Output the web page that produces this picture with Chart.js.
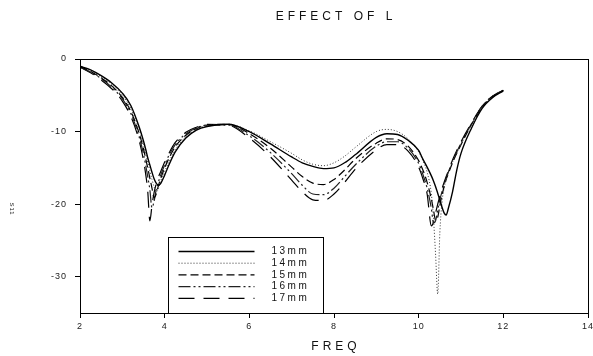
<!DOCTYPE html>
<html>
<head>
<meta charset="utf-8">
<script src="https://cdn.jsdelivr.net/npm/chart.js@4.4.1/dist/chart.umd.min.js"></script>
<style>
  html, body { margin: 0; padding: 0; background: #fff; }
</style>
</head>
<body>
<canvas id="chart" width="593" height="356"></canvas>
<script>
// frequency grid (finer around the dips)
const freq = [2.0, 2.25, 2.5, 2.75, 3.0, 3.2, 3.4, 3.5, 3.55, 3.6, 3.65, 3.7, 3.75, 3.8, 3.85, 3.9, 4.0, 4.1, 4.25, 4.5, 4.75,
  5.0, 5.5, 6.0, 6.5, 7.0, 7.25, 7.5, 7.75, 8.0, 8.25, 8.5, 9.0, 9.25, 9.5, 9.75, 10.0, 10.1, 10.2, 10.3, 10.35, 10.4,
  10.45, 10.5, 10.55, 10.6, 10.65, 10.7, 10.8, 10.9, 11.0, 11.25, 11.5, 11.75, 12.0];

const l13 = [-1.0, -1.5, -2.3, -3.3, -4.7, -6.4, -9.4, -11.3, -12.4, -13.6, -14.6, -15.6, -16.5, -17.1, -17.4, -17.2, -16.0, -14.6, -12.8, -10.9, -9.8,
  -9.3, -9.0, -10.0, -11.7, -13.5, -14.3, -14.8, -15.1, -15.0, -14.3, -13.2, -10.8, -10.3, -10.4, -11.2, -12.6, -13.8, -14.9, -16.1, -16.8, -17.6,
  -18.5, -19.4, -20.4, -21.2, -21.5, -20.6, -18.3, -15.3, -13.0, -9.5, -6.8, -5.3, -4.4];
const l14 = [-1.0, -1.6, -2.4, -3.5, -5.0, -6.8, -9.8, -11.8, -13.0, -14.2, -15.4, -16.6, -17.6, -18.3, -17.9, -16.9, -15.5, -14.2, -12.5, -10.7, -9.7,
  -9.2, -9.0, -9.9, -11.4, -13.0, -13.9, -14.5, -14.7, -14.3, -13.4, -12.2, -10.0, -9.7, -10.0, -11.0, -12.8, -14.0, -15.6, -18.6, -22.0, -27.0,
  -32.4, -24.0, -19.8, -17.8, -16.6, -15.7, -14.2, -12.9, -11.8, -9.0, -6.6, -5.2, -4.3];
const l15 = [-1.0, -1.7, -2.6, -3.7, -5.3, -7.2, -10.3, -12.4, -13.7, -15.0, -16.4, -17.8, -19.1, -18.6, -17.5, -16.6, -15.0, -13.7, -12.1, -10.5, -9.6,
  -9.1, -9.0, -10.3, -12.3, -14.9, -16.2, -17.1, -17.3, -16.6, -15.3, -13.8, -11.6, -11.0, -11.1, -12.0, -14.0, -15.3, -17.0, -19.3, -20.8, -22.2,
  -21.8, -20.2, -18.8, -17.6, -16.6, -15.8, -14.3, -13.0, -11.8, -9.0, -6.6, -5.2, -4.3];
const l16 = [-1.1, -1.8, -2.7, -3.9, -5.5, -7.5, -10.8, -13.1, -14.6, -16.2, -18.0, -20.5, -19.6, -18.0, -17.0, -16.1, -14.6, -13.3, -11.8, -10.3, -9.5,
  -9.1, -9.1, -10.6, -12.9, -15.8, -17.4, -18.6, -18.7, -17.8, -16.2, -14.6, -12.0, -11.4, -11.4, -12.3, -14.4, -15.9, -17.8, -20.6, -22.6, -22.3,
  -20.8, -19.4, -18.3, -17.3, -16.4, -15.6, -14.1, -12.8, -11.6, -8.9, -6.5, -5.1, -4.3];
const l17 = [-1.1, -1.9, -2.9, -4.1, -5.8, -7.9, -11.3, -14.0, -15.8, -18.2, -22.3, -20.2, -18.4, -17.2, -16.3, -15.6, -14.2, -13.0, -11.5, -10.1, -9.4,
  -9.0, -9.1, -10.9, -13.5, -16.7, -18.3, -19.4, -19.5, -18.6, -17.0, -15.2, -12.5, -11.8, -11.8, -12.7, -14.9, -16.5, -18.6, -23.0, -22.5, -21.2,
  -20.0, -18.9, -17.9, -17.0, -16.2, -15.4, -13.9, -12.6, -11.4, -8.8, -6.5, -5.1, -4.3];

const seriesLabels = ["13mm", "14mm", "15mm", "16mm", "17mm"];
const seriesValues = [l13, l14, l15, l16, l17];
const xTicks = [2, 4, 6, 8, 10, 12, 14];
const yTicks = [0, -10, -20, -30];

const lineStyles = [
  { dash: [], width: 1.4, color: "#000" },
  { dash: [1, 2], width: 1, color: "#333" },
  { dash: [8, 4], width: 1.2, color: "#000" },
  { dash: [12, 3, 2, 3, 2, 3], width: 1.2, color: "#222" },
  { dash: [16, 9], width: 1.2, color: "#000" }
];

const FONT = 'Arial, "Liberation Sans", sans-serif';

const datasets = seriesLabels.map((name, i) => ({
  label: name,
  data: freq.map((f, j) => ({ x: f, y: seriesValues[i][j] })),
  borderColor: lineStyles[i].color,
  borderWidth: lineStyles[i].width,
  borderDash: lineStyles[i].dash,
  pointRadius: 0,
  fill: false,
  cubicInterpolationMode: "monotone"
}));

// frame, titles and the boxed legend
const decorPlugin = {
  id: "decor",
  beforeDraw(chart) {
    chart.ctx.letterSpacing = "1px";
  },
  afterDraw(chart) {
    const { ctx, chartArea: a } = chart;
    const xs = chart.scales.x;
    ctx.save();
    ctx.strokeStyle = "#000";
    ctx.lineWidth = 1;
    ctx.setLineDash([]);
    ctx.strokeRect(a.left + 0.5, a.top + 0.5, a.right - a.left, a.bottom - a.top);

    ctx.fillStyle = "#111";
    ctx.textAlign = "center";
    ctx.textBaseline = "middle";
    ctx.font = "12px " + FONT;
    ctx.letterSpacing = "4px";
    const cx = (a.left + a.right) / 2 + 2;
    ctx.fillText("EFFECT OF L", cx, 17);
    ctx.fillText("FREQ", cx, 347);

    // tiny rotated y label
    ctx.save();
    ctx.font = "6px " + FONT;
    ctx.letterSpacing = "1px";
    ctx.translate(12, 209);
    ctx.rotate(Math.PI / 2);
    ctx.fillText("S11", 0, 0);
    ctx.restore();

    // legend box
    const bl = Math.round(xs.getPixelForValue(4)) + 3.5;
    const br = Math.round(xs.getPixelForValue(7.75)) + 0.5;
    const bt = 237.5;
    const bb = Math.round(a.bottom) + 0.5;
    ctx.fillStyle = "#fff";
    ctx.fillRect(bl, bt, br - bl, bb - bt);
    ctx.strokeStyle = "#000";
    ctx.lineWidth = 1;
    ctx.strokeRect(bl, bt, br - bl, bb - bt);

    ctx.font = "10px " + FONT;
    ctx.letterSpacing = "2.5px";
    ctx.textAlign = "left";
    ctx.fillStyle = "#111";
    chart.data.datasets.forEach((ds, i) => {
      const y = 251.5 + i * 11.7;
      ctx.beginPath();
      ctx.setLineDash(ds.borderDash);
      ctx.lineWidth = ds.borderWidth;
      ctx.strokeStyle = ds.borderColor;
      ctx.moveTo(bl + 10, y);
      ctx.lineTo(bl + 86, y);
      ctx.stroke();
      ctx.setLineDash([]);
      ctx.fillText(ds.label, bl + 103, y);
    });
    ctx.restore();
  }
};

new Chart(document.getElementById("chart").getContext("2d"), {
  type: "line",
  data: { datasets: datasets },
  plugins: [decorPlugin],
  options: {
    responsive: false,
    animation: false,
    layout: { padding: { top: 59, right: 5, left: 0, bottom: 0 } },
    plugins: {
      legend: { display: false },
      tooltip: { enabled: false },
      title: { display: false }
    },
    scales: {
      x: {
        type: "linear",
        min: 2,
        max: 14,
        afterBuildTicks: s => { s.ticks = xTicks.map(v => ({ value: v })); },
        afterFit: s => {
          s.height = 43;
          s.paddingLeft = 0; s.paddingRight = 0;
        },
        ticks: { color: "#222", font: { family: FONT, size: 9 }, padding: 3, maxRotation: 0 },
        grid: { drawOnChartArea: false, drawTicks: true, tickLength: 5, color: "#000" },
        border: { display: true, color: "#000", width: 1 }
      },
      y: {
        type: "linear",
        min: -35,
        max: 0,
        afterBuildTicks: s => { s.ticks = yTicks.map(v => ({ value: v })); },
        afterFit: s => {
          s.width = 80;
          s.paddingTop = 0; s.paddingBottom = 0;
        },
        ticks: { color: "#222", font: { family: FONT, size: 9 }, padding: 8 },
        grid: { drawOnChartArea: false, drawTicks: true, tickLength: 5, color: "#000" },
        border: { display: true, color: "#000", width: 1 }
      }
    }
  }
});
</script>
</body>
</html>
